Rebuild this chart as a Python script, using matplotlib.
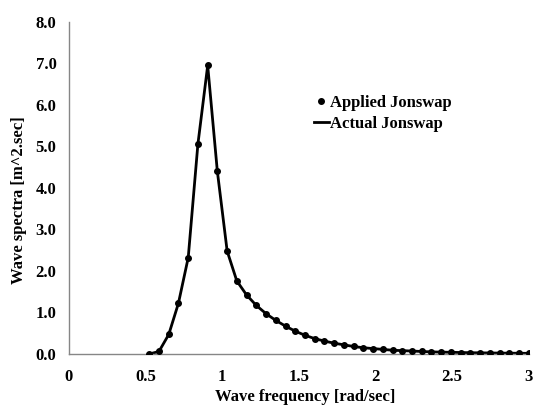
import matplotlib.pyplot as plt

# frequency [rad/sec] and spectral density [m^2.sec]
freq = [0.524, 0.587, 0.651, 0.714, 0.778, 0.841, 0.905, 0.968, 1.032, 1.095,
        1.159, 1.222, 1.286, 1.349, 1.413, 1.476, 1.540, 1.603, 1.667, 1.730,
        1.794, 1.857, 1.921, 1.984, 2.048, 2.111, 2.175, 2.238, 2.302, 2.365,
        2.429, 2.492, 2.556, 2.619, 2.683, 2.746, 2.810, 2.873, 2.937, 3.000]
spectra = [0.00, 0.06, 0.47, 1.22, 2.32, 5.05, 6.95, 4.40, 2.48, 1.76,
           1.42, 1.17, 0.97, 0.81, 0.67, 0.55, 0.45, 0.37, 0.31, 0.26,
           0.22, 0.18, 0.15, 0.13, 0.11, 0.09, 0.08, 0.07, 0.06, 0.05,
           0.045, 0.04, 0.035, 0.03, 0.027, 0.024, 0.021, 0.019, 0.017, 0.015]

x_ticks = [0, 0.5, 1, 1.5, 2, 2.5, 3]
x_labels = ['0', '0.5', '1', '1.5', '2', '2.5', '3']
y_ticks = [0, 1, 2, 3, 4, 5, 6, 7, 8]

plt.rcParams['font.family'] = ['Liberation Serif', 'DejaVu Serif']
plt.rcParams['font.weight'] = 'bold'

fig = plt.figure(figsize=(5.39, 4.05), dpi=100)
ax = fig.add_axes([0.128, 0.126, 0.853, 0.820])

ax.plot(freq, spectra, color='black', linewidth=2, label='Actual Jonswap', zorder=2)
ax.plot(freq, spectra, 'o', color='black', markersize=4, linestyle='none',
        label='Applied Jonswap', zorder=3)

ax.set_xlim(0, 3)
ax.set_ylim(0, 8)
ax.set_xticks(x_ticks)
ax.set_xticklabels(x_labels)
ax.set_yticks(y_ticks)
ax.set_yticklabels(['%.1f' % v for v in y_ticks])
ax.tick_params(length=0, labelsize=12, pad=9)
ax.tick_params(axis='x', pad=11)

for s in ['top', 'right']:
    ax.spines[s].set_visible(False)
for s in ['left', 'bottom']:
    ax.spines[s].set_color('#868686')
    ax.spines[s].set_linewidth(1)

ax.set_xlabel('Wave frequency [rad/sec]', fontsize=12, fontweight='bold')
ax.set_ylabel('Wave spectra [m^2.sec]', fontsize=12, fontweight='bold')
ax.xaxis.set_label_coords(0.513, -0.106)
ax.yaxis.set_label_coords(-0.091, 0.464)

h, l = ax.get_legend_handles_labels()
ax.legend([h[1], h[0]], [l[1], l[0]], loc='upper left', bbox_to_anchor=(0.532, 0.779),
          frameon=False, fontsize=12, handlelength=0.9, handletextpad=0.1,
          labelspacing=0.3, borderaxespad=0, borderpad=0)

plt.savefig('out.png', dpi=100)
